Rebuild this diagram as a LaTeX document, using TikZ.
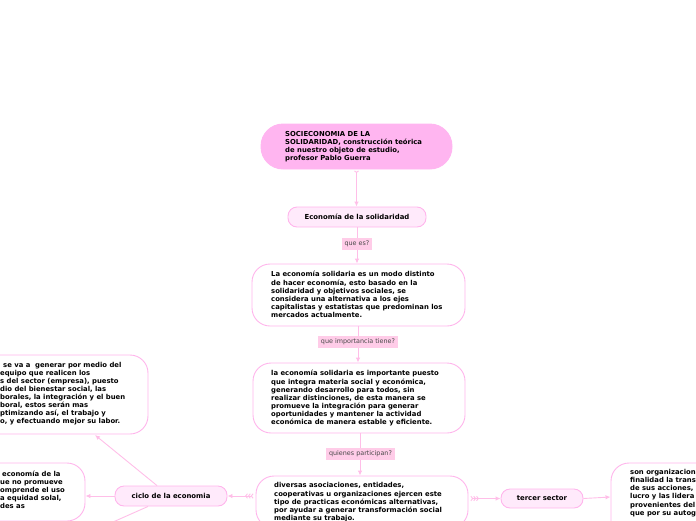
\documentclass[tikz,border=0pt]{standalone}
\usepackage{fontspec}
\setmainfont{DejaVu Sans}
\usetikzlibrary{arrows.meta}
\definecolor{pinkline}{HTML}{FFBEE8}
\definecolor{pinkborder}{HTML}{FFB5EC}
\definecolor{topfill}{HTML}{FFB5F0}
\definecolor{lightfill}{HTML}{FFEAFB}
\definecolor{lblfill}{HTML}{FFCCE8}
\definecolor{lbltext}{HTML}{4A4A4A}
\begin{document}
\begin{tikzpicture}[x=1pt,y=-1pt,
  box/.style={draw=pinkborder, line width=0.9pt, fill=white, rounded corners=18pt, inner sep=0pt},
  topbox/.style={box, fill=topfill, draw=topfill, rounded corners=22pt},
  pill/.style={box, fill=lightfill, rounded corners=9pt, font=\fontsize{6.9}{8}\selectfont\bfseries},
  txt/.style={font=\fontsize{6.85}{8.1}\selectfont\bfseries, align=left, inner sep=0pt, anchor=west},
  lbl/.style={fill=lblfill, text=lbltext, inner xsep=3pt, minimum height=12pt, inner ysep=0pt, font=\fontsize{6.4}{7}\selectfont},
  conn/.style={draw=pinkline, line width=0.9pt, -{Latex[length=5pt,width=4.5pt]}},
  chev/.style={{Straight Barb[reversed,length=1.8pt,width=4.5pt]Straight Barb[reversed,length=1.8pt,width=4.5pt]Straight Barb[reversed,length=1.8pt,width=4.5pt]}-{Latex[length=5pt,width=4.5pt]}, shorten <=2pt}
]
\useasboundingbox (0,0) rectangle (696,520);
\clip (0,0) rectangle (696,520);

% boxes
\node[topbox, minimum width=191pt, minimum height=45pt] (n1) at (356.5,146.5) {};
\node[txt] (t1) at (285,147) {SOCIECONOMIA DE LA\\SOLIDARIDAD, construcción teórica\\de nuestro objeto de estudio,\\profesor Pablo Guerra};

\node[pill, minimum width=138pt, minimum height=20pt] (n2) at (357,217) {Economía de la solidaridad};

\node[box, minimum width=213pt, minimum height=62pt] (n3) at (358.5,295) {};
\node[txt] (t3) at (271,294.5) {La economía solidaria es un modo distinto\\de hacer economía, esto basado en la\\solidaridad y objetivos sociales, se\\considera una alternativa a los ejes\\capitalistas y estatistas que predominan los\\mercados actualmente.};

\node[box, minimum width=212pt, minimum height=70pt] (n4) at (359,398) {};
\node[txt] (t4) at (271,398.2) {la economía solidaria es importante puesto\\que integra materia social y económica,\\generando desarrollo para todos, sin\\realizar distinciones, de esta manera se\\promueve la integración para generar\\oportunidades y mantener la actividad\\económica de manera estable y eficiente.};

\node[box, minimum width=212pt, minimum height=52pt] (n5) at (362,502) {};
\node[txt] (t5) at (274,502.3) {diversas asociaciones, entidades,\\cooperativas u organizaciones ejercen este\\tipo de practicas económicas alternativas,\\por ayudar a generar transformación social\\mediante su trabajo.};

\node[pill, minimum width=112pt, minimum height=20pt] (ciclo) at (171,496) {ciclo de la economia};
\node[pill, minimum width=82pt, minimum height=19pt] (tercer) at (542,498.5) {tercer sector};

\node[box, minimum width=248pt, minimum height=79pt] (tl) at (24,394.5) {};
\node[txt] (ttl) at (0,393.6) {\hspace{3pt}se va a\ \ generar por medio del\\equipo que realicen los\\s del sector (empresa), puesto\\dio del bienestar social, las\\borales, la integración y el buen\\boral, estos serán mas\\ptimizando así, el trabajo y\\o, y efectuando mejor su labor.};

\node[box, minimum width=205pt, minimum height=58pt] (bl) at (-17.5,492) {};
\node[txt] (tbl) at (0,489.5) {\hspace{2pt}economía de la\\ue no promueve\\omprende el uso\\a equidad solal,\\des as};

\node[box, minimum width=190pt, minimum height=80pt] (rn) at (706,503) {};
\node[txt] (trn) at (630,493) {son organizacion\\finalidad la trans\\de sus acciones,\\lucro y las lidera\\provenientes del\\que por su autog};

% connectors
\draw[draw=pinkline, line width=0.9pt, {Straight Barb[reversed,length=1.5pt,width=4pt]}-{Latex[length=5pt,width=4.5pt]}, shorten <=1pt] (n1.south) -- (n1.south |- n2.north);
\draw[conn] (n2.south) -- (n2.south |- n3.north);
\draw[conn] ([xshift=-0.5pt]n3.south) -- ([xshift=-0.5pt]n3.south |- n4.north);
\draw[conn] ([xshift=1pt]n4.south) -- ([xshift=1pt]n4.south |- n5.north);
\node[lbl] (l1) at (357,244) {que es?};
\node[lbl] (l2) at (358,342) {que importancia tiene?};
\node[lbl] (l3) at (360.5,454) {quienes participan?};

\draw[draw=pinkline, line width=0.9pt, chev] (n5.west |- ciclo.east) -- (ciclo.east);
\draw[draw=pinkline, line width=0.9pt, chev] (n5.east |- tercer.west) -- (tercer.west);
\draw[conn] (ciclo.west) -- (ciclo.west -| bl.east);
\draw[conn] (tercer.east) -- ([yshift=1.5pt]tercer.east -| rn.west);
\coordinate (cup) at (95,435);
\coordinate (cdown) at (95,530);
\draw[conn] ([xshift=-14pt]ciclo.north) -- (cup);
\draw[draw=pinkline, line width=0.9pt] ([xshift=-23pt]ciclo.south) -- (cdown);
\end{tikzpicture}
\end{document}
